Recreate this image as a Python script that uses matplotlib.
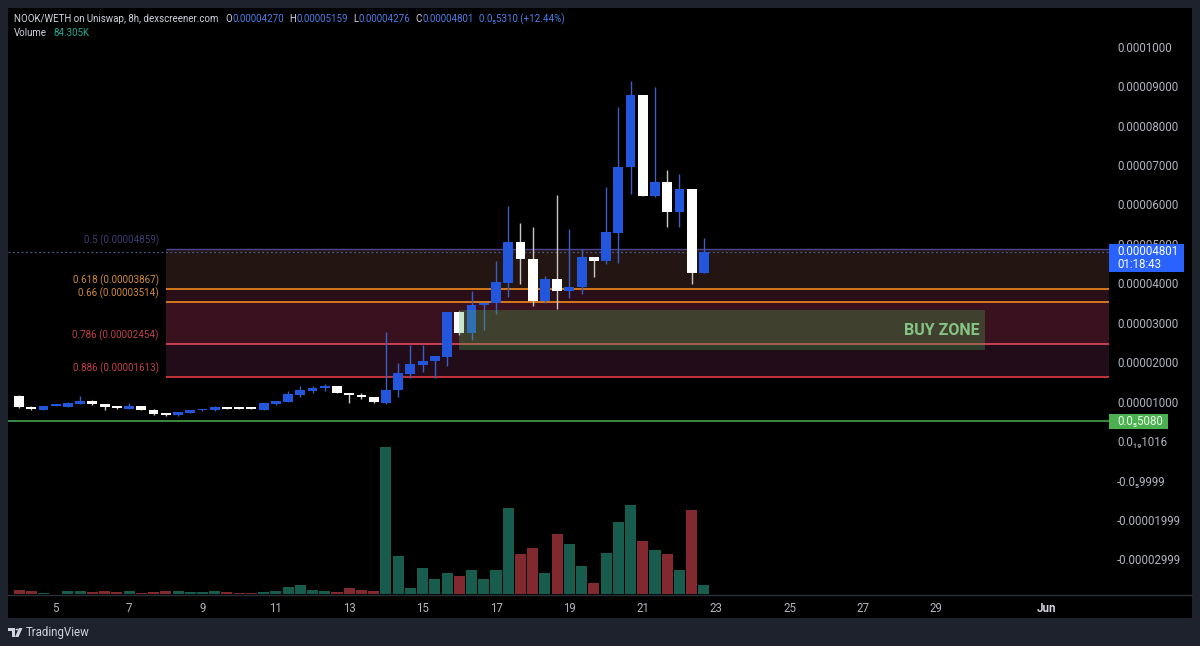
import matplotlib
matplotlib.use('Agg')
import matplotlib.pyplot as plt
from matplotlib.patches import Rectangle, Polygon, Circle

plt.rcParams['font.family'] = ['Roboto', 'DejaVu Sans']

# ---------------- data (prices in units of 1e-5 WETH, 8h candles from 4 May) -------------
opens = [1.15, 0.86, 0.80, 0.89, 0.87, 0.95, 1.02, 0.94, 0.88, 0.82,
         0.88, 0.80, 0.70, 0.65, 0.71, 0.78, 0.78, 0.86, 0.83, 0.83,
         0.80, 0.946, 0.99, 1.166, 1.275, 1.343, 1.394, 1.21, 1.174, 1.123,
         0.956, 1.293, 1.70, 1.934, 2.02, 2.137, 3.27, 2.73, 3.45, 3.49,
         4.01, 5.04, 4.61, 3.54, 4.10, 3.80, 3.91, 4.66, 4.555, 5.28,
         6.95, 8.77, 6.21, 6.565, 5.82, 6.38, 4.27]
highs = [1.17, 0.88, 0.89, 0.91, 1.00, 1.15, 1.03, 0.95, 0.89, 0.96,
         0.89, 0.81, 0.71, 0.74, 0.80, 0.81, 0.88, 0.87, 0.835, 0.835,
         0.96, 1.02, 1.28, 1.40, 1.40, 1.45, 1.40, 1.22, 1.21, 1.13,
         2.77, 1.985, 2.43, 2.43, 2.16, 3.28, 3.30, 3.80, 3.50, 4.56,
         5.96, 5.54, 5.42, 4.19, 6.25, 5.37, 4.88, 4.67, 6.43, 8.46,
         9.13, 8.78, 8.97, 6.87, 6.77, 6.40, 5.16]
lows = [0.85, 0.80, 0.79, 0.88, 0.86, 0.94, 0.92, 0.80, 0.82, 0.81,
        0.79, 0.67, 0.63, 0.64, 0.70, 0.76, 0.77, 0.81, 0.82, 0.82,
        0.79, 0.92, 0.98, 1.12, 1.21, 1.27, 1.22, 0.956, 1.06, 0.96,
        0.95, 1.12, 1.60, 1.76, 1.60, 1.91, 2.70, 2.56, 2.81, 3.22,
        3.65, 3.97, 3.42, 3.50, 3.36, 3.64, 3.73, 4.15, 4.50, 4.51,
        6.26, 6.21, 6.20, 5.42, 5.42, 3.98, 4.25]
closes = [0.86, 0.81, 0.89, 0.90, 0.96, 1.02, 0.93, 0.87, 0.83, 0.89,
          0.80, 0.68, 0.66, 0.735, 0.78, 0.785, 0.87, 0.82, 0.825, 0.825,
          0.956, 1.006, 1.184, 1.293, 1.35, 1.40, 1.224, 1.174, 1.123, 0.98,
          1.30, 1.716, 1.95, 2.035, 2.155, 3.27, 2.73, 3.455, 3.49, 4.03,
          5.04, 4.605, 3.54, 4.11, 3.81, 3.91, 4.66, 4.555, 5.30, 6.95,
          8.77, 6.21, 6.57, 5.82, 6.38, 4.25, 4.80]
volumes_k = [39, 29, 13, 3, 26, 26, 19, 32, 16, 29,
             13, 22, 32, 29, 19, 16, 26, 16, 10, 10,
             19, 32, 68, 84, 39, 26, 19, 61, 42, 29,
             1421, 368, 55, 249, 145, 206, 177, 233, 145, 233,
             833, 391, 446, 201, 578, 482, 271, 104, 394, 698,
             862, 516, 426, 385, 230, 817, 84.3]

day_ticks = [5, 7, 9, 11, 13, 15, 17, 19, 21, 23, 25, 27, 29, 32]
day_tick_labels = ['5', '7', '9', '11', '13', '15', '17', '19', '21', '23', '25', '27', '29', 'Jun']

price_ticks = [10, 9, 8, 7, 6, 5, 4, 3, 2, 1, 0.0, -0.9999, -1.999, -2.999]
price_tick_labels = ['0.0001000', '0.00009000', '0.00008000', '0.00007000', '0.00006000',
                     '0.00005000', '0.00004000', '0.00003000', '0.00002000', '0.00001000',
                     '0.0\u2081\u20891016', '-0.0\u20859999', '-0.00001999', '-0.00002999']

fib_ratios = ['0.5', '0.618', '0.66', '0.786', '0.886']
fib_prices = [4.859, 3.867, 3.514, 2.454, 1.613]
fib_price_text = ['0.00004859', '0.00003867', '0.00003514', '0.00002454', '0.00001613']
fib_start_day = 8.0
support_price = 0.508
support_text = '0.0\u20855080'
buy_zone_low, buy_zone_high = 2.31, 3.32
buy_zone_start_day, buy_zone_end_day = 16.0, 30.33
last_price = 4.801
last_price_text = '0.00004801'
countdown_text = '01:18:43'

header_title = 'NOOK/WETH on Uniswap, 8h, dexscreener.com'
header_ohlc = [('O', '0.00004270'), ('H', '0.00005159'), ('L', '0.00004276'), ('C', '0.00004801')]
header_change = '0.0\u20855310 (+12.44%)'
header_volume = '84.305K'

# ---------------- styling ----------------
FRAME = '#1e222d'
BLUE = '#2256dc'
WHITE = '#ffffff'
VOL_UP = '#185c4e'
VOL_DN = '#82292f'
TXT = '#b2b5be'
FS_HEAD = 7.0
FS_AX = 8.3

W, H = 1200, 646
fig = plt.figure(figsize=(W / 100, H / 100), dpi=100, facecolor=FRAME)


def fx(x):
    return x / W


def fy(y):
    return (H - y) / H


fig.add_artist(Rectangle((fx(8), fy(618)), fx(1192) - fx(8), fy(8) - fy(618),
                         transform=fig.transFigure, facecolor='black', edgecolor='none', zorder=-5))
fig.add_artist(plt.Line2D([fx(8), fx(1192)], [fy(594.5), fy(594.5)], transform=fig.transFigure,
                          color='#2a2e39', lw=1, zorder=-4))

rect = [fx(8), fy(594), fx(1109) - fx(8), fy(8) - fy(594)]
ax = fig.add_axes(rect)
ax.set_facecolor('none')


def day_to_x(d):
    return (d - 4) * 3.0


ax.set_xlim(-0.9, 89.12)
ax.set_ylim(-3.877, 10.98)
for s in ax.spines.values():
    s.set_visible(False)

xr = ax.get_xlim()[1]

# fib zones
fib_fills = ['#231511', '#2a0f18', '#3a111f', '#220c19']
fib_line_colors = ['#4e4592', '#f28a1e', '#f28a1e', '#e5475c', '#e23c3c']
fib_label_colors = ['#3f3c72', '#d08a3c', '#d08a3c', '#c0404c', '#c0404c']
x0 = day_to_x(fib_start_day)
for k in range(4):
    ax.add_patch(Rectangle((x0, fib_prices[k + 1]), xr - x0, fib_prices[k] - fib_prices[k + 1],
                           facecolor=fib_fills[k], edgecolor='none', zorder=1))
ax.axhline(last_price, color='#4a5a8a', lw=0.9, ls=(0, (1.5, 2)), zorder=1.5)
for k in range(5):
    ax.plot([x0, xr], [fib_prices[k], fib_prices[k]], color=fib_line_colors[k],
            lw=1.2 if k else 1.0, zorder=2, solid_capstyle='butt')
    ax.annotate(f'{fib_ratios[k]} ({fib_price_text[k]})', xy=(x0, fib_prices[k]),
                xytext=(-7, 3), textcoords='offset pixels', ha='right', va='bottom',
                color=fib_label_colors[k], fontsize=7.1)

# support line
ax.axhline(support_price, color='#4caf50', lw=1.1, zorder=2)

# candles
for i in range(len(opens)):
    o, h, l, c = opens[i], highs[i], lows[i], closes[i]
    col = BLUE if c >= o else WHITE
    wcol = '#3d5fc4' if c >= o else '#c8c8c8'
    ax.vlines(i, l, h, color=wcol, lw=1.0, zorder=3)
    ax.bar(i, max(abs(c - o), 0.045), bottom=min(o, c), width=0.8, color=col,
           edgecolor='none', zorder=4)

# buy zone
bz0, bz1 = day_to_x(buy_zone_start_day), day_to_x(buy_zone_end_day)
ax.add_patch(Rectangle((bz0, buy_zone_low), bz1 - bz0, buy_zone_high - buy_zone_low,
                       facecolor='#4caf50', alpha=0.3, edgecolor='none', zorder=6))
ax.annotate('BUY ZONE', xy=(bz1, (buy_zone_low + buy_zone_high) / 2), xytext=(-5, 0),
            textcoords='offset pixels', ha='right', va='center', color='#86c486',
            fontsize=11.5, fontweight='bold', zorder=7)

# axes ticks
ax.yaxis.tick_right()
ax.set_yticks(price_ticks)
ax.set_yticklabels(price_tick_labels)
ax.tick_params(axis='y', length=0, pad=5.8, labelsize=FS_AX, labelcolor=TXT)
ax.set_xticks([day_to_x(d) for d in day_ticks])
ax.set_xticklabels(day_tick_labels)
ax.tick_params(axis='x', length=0, pad=6, labelsize=FS_AX, labelcolor=TXT)
jl = ax.get_xticklabels()[-1]
jl.set_fontweight('bold')
jl.set_color('#d1d4dc')

# volume overlay
axv = fig.add_axes(rect, sharex=ax)
axv.set_facecolor('none')
axv.set_ylim(0, 586 * 9.69)
vcols = [VOL_UP if closes[i] >= opens[i] else VOL_DN for i in range(len(opens))]
axv.bar(range(len(volumes_k)), volumes_k, width=0.9, color=vcols, edgecolor='none', zorder=2)
axv.axis('off')

# price labels on scale
fig.canvas.draw()
ylast = H - ax.transData.transform((0, last_price))[1]
fig.add_artist(Rectangle((fx(1109), fy(ylast + 20.5)), fx(1184) - fx(1109), 28 / H,
                         transform=fig.transFigure, facecolor='#2962ff', edgecolor='none', zorder=5))
fig.text(fx(1117), fy(ylast), last_price_text, color='white', fontsize=FS_AX, va='center', ha='left', zorder=6)
fig.text(fx(1117), fy(ylast + 13), countdown_text, color='white', fontsize=FS_AX, va='center', ha='left', zorder=6)

ysup = H - ax.transData.transform((0, support_price))[1]
fig.add_artist(Rectangle((fx(1109), fy(ysup + 7.5)), fx(1168) - fx(1109), 15 / H,
                         transform=fig.transFigure, facecolor='#4caf50', edgecolor='none', zorder=5))
fig.text(fx(1117), fy(ysup), support_text, color='#eaffea', fontsize=FS_AX, va='center', ha='left', zorder=6)

# header
GRAY_H = '#d1d4dc'
VAL_B = '#4a7fe8'
t = ax.annotate(header_title, xy=(14, H - 19), xycoords='figure pixels', ha='left', va='center',
                color=GRAY_H, fontsize=FS_HEAD, annotation_clip=False)
gap = 7
for lab, val in header_ohlc:
    t = ax.annotate(lab, xy=(1, 0.5), xycoords=t, xytext=(gap, 0), textcoords='offset pixels',
                    ha='left', va='center', color=GRAY_H, fontsize=FS_HEAD, annotation_clip=False)
    t = ax.annotate(val, xy=(1, 0.5), xycoords=t, xytext=(0.5, 0), textcoords='offset pixels',
                    ha='left', va='center', color=VAL_B, fontsize=FS_HEAD, annotation_clip=False)
    gap = 5
t = ax.annotate(header_change, xy=(1, 0.5), xycoords=t, xytext=(5, 0), textcoords='offset pixels',
                ha='left', va='center', color=VAL_B, fontsize=FS_HEAD, annotation_clip=False)
t = ax.annotate('Volume', xy=(14, H - 33), xycoords='figure pixels', ha='left', va='center',
                color=GRAY_H, fontsize=FS_HEAD, annotation_clip=False)
ax.annotate(header_volume, xy=(1, 0.5), xycoords=t, xytext=(7, 0), textcoords='offset pixels',
            ha='left', va='center', color='#22ab94', fontsize=FS_HEAD, annotation_clip=False)

# TradingView mark
fig.add_artist(Rectangle((fx(8), fy(631)), 7 / W, 3 / H, transform=fig.transFigure,
                         facecolor='#d1d4dc', edgecolor='none'))
fig.add_artist(Rectangle((fx(11.5), fy(637)), 3.5 / W, 9 / H, transform=fig.transFigure,
                         facecolor='#d1d4dc', edgecolor='none'))
fig.add_artist(Circle((fx(17), fy(629.5)), 1.5 / W, transform=fig.transFigure,
                      facecolor='#d1d4dc', edgecolor='none'))
fig.add_artist(Polygon([(fx(19), fy(628)), (fx(22.5), fy(628)), (fx(18.5), fy(637)), (fx(15), fy(637))],
                       closed=True, transform=fig.transFigure, facecolor='#d1d4dc', edgecolor='none'))
fig.text(fx(26), fy(632.5), 'TradingView', color='#d1d4dc', fontsize=8.3, va='center', ha='left')

fig.savefig('out.png', dpi=100, facecolor=FRAME)
